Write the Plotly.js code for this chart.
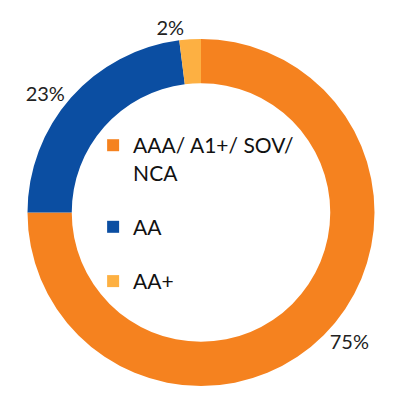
<!DOCTYPE html>
<html>
<head>
<meta charset="utf-8">
<script src="https://cdn.plot.ly/plotly-3.0.1.min.js"></script>
<style>html,body{margin:0;padding:0;background:#fff;}#chart{width:398px;height:402px;}</style>
</head>
<body>
<div id="chart"></div>
<script>
const categories = ["AAA/ A1+/ SOV/<br>NCA", "AA", "AA+"];
const shares = [75, 23, 2];
const colors = ["#F5821F", "#0B4EA2", "#FDB042"];

const pie = {
  type: "pie",
  labels: categories,
  values: shares,
  sort: false,
  direction: "clockwise",
  rotation: 0,
  hole: 0.745,
  marker: {colors: colors, line: {width: 0}},
  textposition: "outside",
  texttemplate: "%{value}%",
  textfont: {family: "Lato, 'Open Sans', sans-serif", size: 20, color: "#222"},
  showlegend: false,
  hoverinfo: "label+percent",
  domain: {x: [0, 1], y: [0, 1]}
};

const legendTraces = categories.map((c, i) => ({
  type: "scatter",
  mode: "markers",
  x: [null], y: [null],
  name: c,
  legendgroup: "g" + i,
  marker: {symbol: "square", size: 13, color: colors[i]},
  showlegend: true,
  hoverinfo: "skip"
}));

const layout = {
  width: 398, height: 402,
  margin: {l: 27, r: 23, t: 39, b: 16},
  paper_bgcolor: "#fff", plot_bgcolor: "rgba(0,0,0,0)",
  xaxis: {visible: false}, yaxis: {visible: false},
  showlegend: true,
  legend: {
    x: 0.19, y: 0.752, xanchor: "left", yanchor: "top",
    bgcolor: "rgba(0,0,0,0)",
    font: {family: "Lato, 'Open Sans', sans-serif", size: 21, color: "#111"},
    valign: "top",
    tracegroupgap: 24,
    itemsizing: "constant"
  }
};

Plotly.newPlot("chart", [pie].concat(legendTraces), layout, {displayModeBar: false, staticPlot: true});
</script>
</body>
</html>
